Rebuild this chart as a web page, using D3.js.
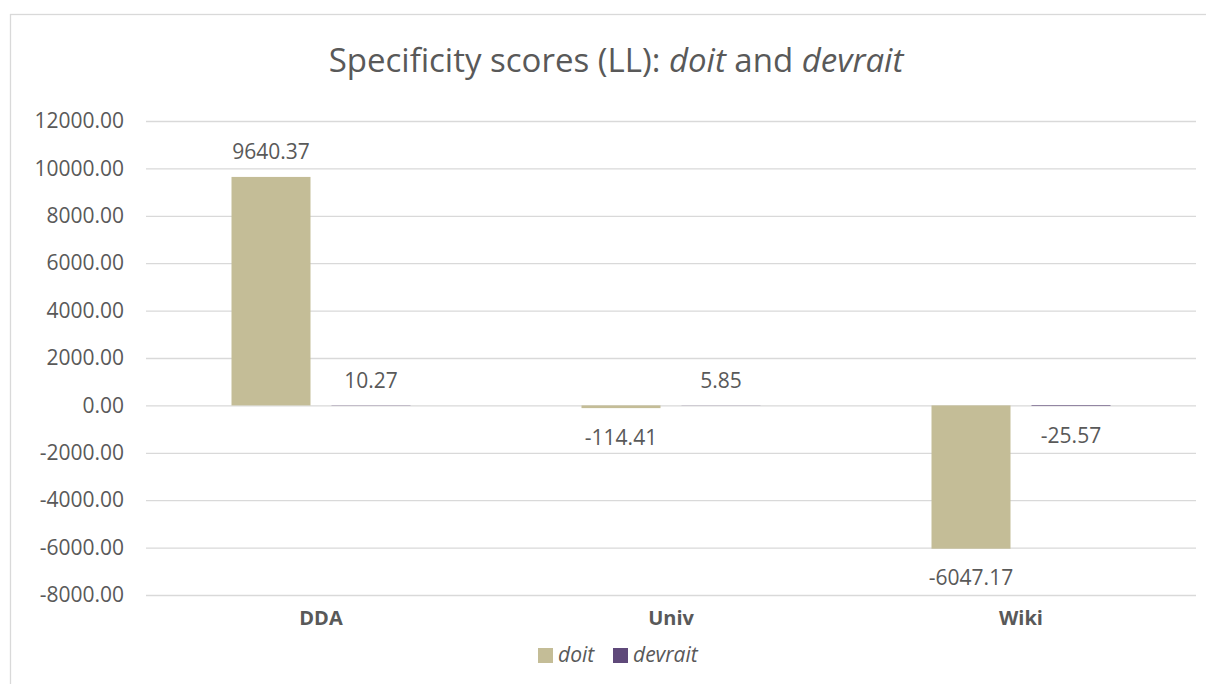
<!DOCTYPE html>
<html>
<head>
<meta charset="utf-8">
<script src="https://cdn.jsdelivr.net/npm/d3@7"></script>
<style>
  body { margin: 0; background: #fff; }
  text { font-family: "Open Sans", sans-serif; fill: #595959; }
</style>
</head>
<body>
<svg id="chart"></svg>
<script>
// chart data
const categories = ["DDA", "Univ", "Wiki"];
const seriesNames = ["doit", "devrait"];
const doitValues = [9640.37, -114.41, -6047.17];
const devraitValues = [10.27, 5.85, -25.57];
const yTicks = [-8000, -6000, -4000, -2000, 0, 2000, 4000, 6000, 8000, 10000, 12000];
const seriesColors = ["#c4bd97", "#5f497a"];

const width = 1206;
const height = 684;
const plot = { left: 146, right: 1196, top: 121, bottom: 595 };

// two decimals with a plain hyphen for negatives
const fmt = v => d3.format(".2f")(v).replace("\u2212", "-");

const svg = d3.select("#chart")
  .attr("width", width)
  .attr("height", height);

// outer chart border (runs off the right and bottom edges)
svg.append("rect")
  .attr("x", 10.5).attr("y", 14.5)
  .attr("width", 1220).attr("height", 700)
  .attr("fill", "none")
  .attr("stroke", "#d9d9d9")
  .attr("stroke-width", 1.3);

// title with italic words
const title = svg.append("text")
  .attr("x", 616).attr("y", 72)
  .attr("text-anchor", "middle")
  .style("font-size", "33px");
title.append("tspan").text("Specificity scores (LL): ");
title.append("tspan").style("font-style", "italic").text("doit");
title.append("tspan").text(" and ");
title.append("tspan").style("font-style", "italic").text("devrait");

// scales
const y = d3.scaleLinear()
  .domain([d3.min(yTicks), d3.max(yTicks)])
  .range([plot.bottom, plot.top]);

const x0 = d3.scaleBand()
  .domain(categories)
  .range([plot.left, plot.right])
  .padding(0);

const x1 = d3.scaleBand()
  .domain(seriesNames)
  .range([0, x0.bandwidth()])
  .paddingInner(0.21)
  .paddingOuter(0.855);

// y axis + gridlines
const yAxis = svg.append("g")
  .attr("transform", `translate(${plot.left},0)`)
  .call(d3.axisLeft(y)
    .tickValues(yTicks)
    .tickFormat(fmt)
    .tickSize(-(plot.right - plot.left))
    .tickPadding(22));
yAxis.select(".domain").remove();
yAxis.selectAll(".tick line").attr("stroke", "#d9d9d9").attr("stroke-width", 1.3);
yAxis.selectAll(".tick text")
  .style("font-size", "21px")
  .style("font-family", "'Open Sans', sans-serif")
  .attr("fill", "#595959");

// x axis labels
const xAxis = svg.append("g")
  .attr("transform", `translate(0,${plot.bottom})`)
  .call(d3.axisBottom(x0).tickSize(0).tickPadding(16));
xAxis.select(".domain").remove();
xAxis.selectAll(".tick text")
  .style("font-size", "20px")
  .style("font-weight", "bold")
  .style("font-family", "'Open Sans', sans-serif")
  .attr("fill", "#595959");

// bars
const rows = categories.map((c, i) => ({
  category: c,
  values: [
    { series: "doit", value: doitValues[i] },
    { series: "devrait", value: devraitValues[i] }
  ]
}));

const color = d3.scaleOrdinal().domain(seriesNames).range(seriesColors);

const groups = svg.append("g")
  .selectAll("g")
  .data(rows)
  .join("g")
  .attr("transform", d => `translate(${x0(d.category)},0)`);

groups.selectAll("rect")
  .data(d => d.values)
  .join("rect")
  .attr("x", d => x1(d.series))
  .attr("width", x1.bandwidth())
  .attr("y", d => y(Math.max(0, d.value)))
  .attr("height", d => Math.abs(y(d.value) - y(0)))
  .attr("fill", d => color(d.series));

// value labels
groups.selectAll("text.val")
  .data(d => d.values)
  .join("text")
  .attr("class", "val")
  .attr("x", d => x1(d.series) + x1.bandwidth() / 2)
  .attr("y", d => d.value >= 0 ? y(d.value) - 25 : y(d.value) + 29)
  .attr("dy", "0.36em")
  .attr("text-anchor", "middle")
  .style("font-size", "21px")
  .text(d => fmt(d.value));

// legend
const legend = svg.append("g").attr("transform", "translate(538,648)");
const legendX = [0, 75];
seriesNames.forEach((s, i) => {
  const g = legend.append("g").attr("transform", `translate(${legendX[i]},0)`);
  g.append("rect").attr("width", 15).attr("height", 15).attr("fill", color(s));
  g.append("text")
    .attr("x", 20).attr("y", 14)
    .style("font-size", "21px")
    .style("font-style", "italic")
    .text(s);
});
</script>
</body>
</html>
